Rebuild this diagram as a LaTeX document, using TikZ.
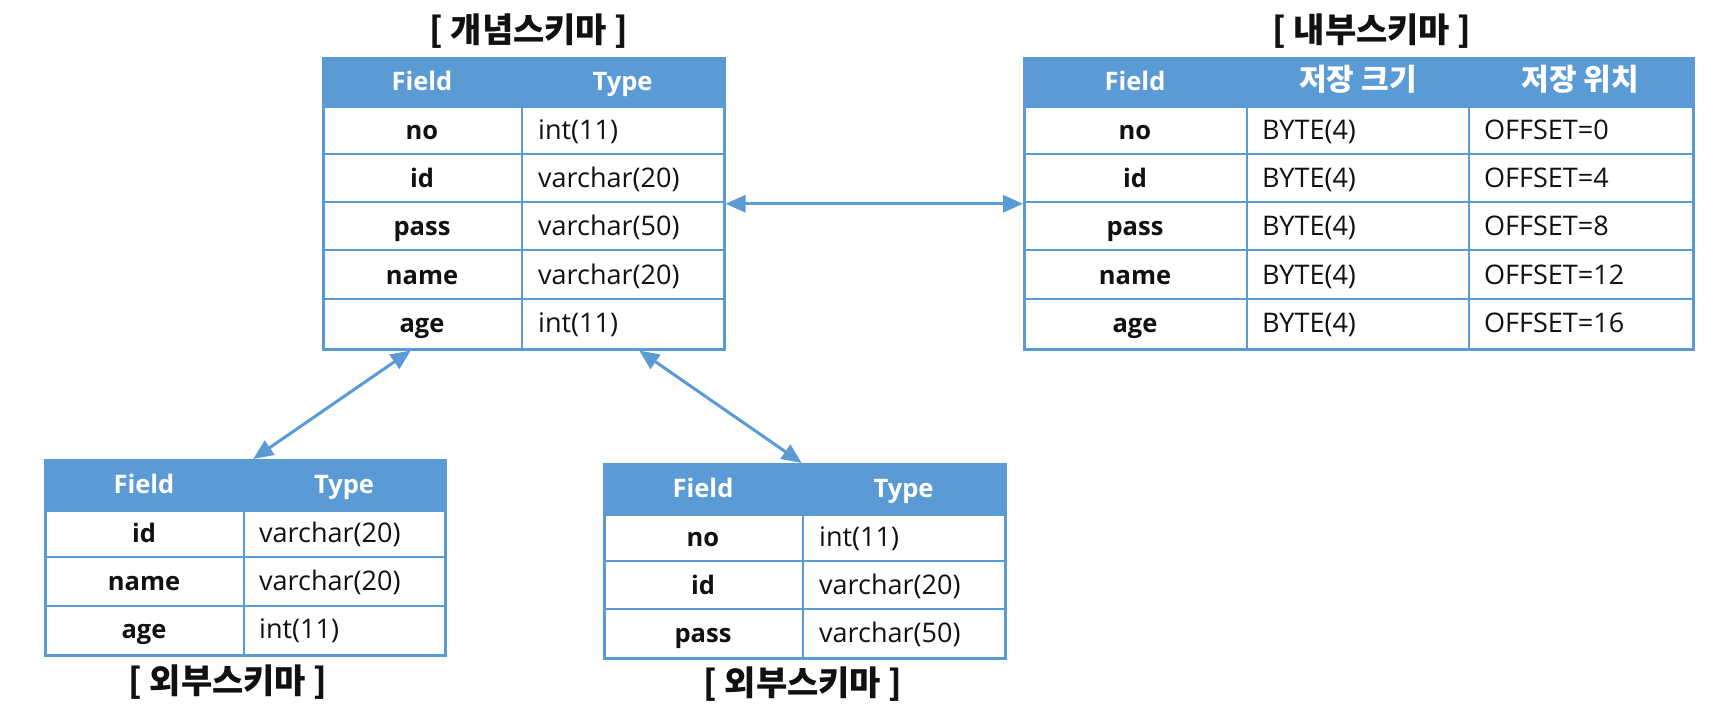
\documentclass[tikz,border=0pt]{standalone}
\usepackage{fontspec}
\setmainfont{Open Sans}
\newfontfamily\kr{Noto Sans CJK KR}
\usetikzlibrary{arrows.meta,calc}
\definecolor{tblue}{HTML}{5B9BD5}
\definecolor{ink}{HTML}{111111}
\begin{document}
\begin{tikzpicture}[x=1pt,y=-1pt,
  frame/.style={draw=tblue,line width=2.5pt,inner sep=0pt,anchor=north west},
  headbar/.style={fill=tblue,draw=tblue,line width=2.5pt,inner sep=0pt,anchor=north west},
  gridline/.style={draw=tblue,line width=2.5pt},
  htxt/.style={text=white,font=\fontsize{25.5}{30}\selectfont\bfseries,inner sep=0pt,anchor=base},
  hkr/.style={text=white,font=\kr\fontsize{30}{34}\selectfont\bfseries,inner sep=0pt,anchor=base},
  ftxt/.style={text=ink,font=\fontsize{25.5}{30}\selectfont\bfseries,inner sep=0pt,anchor=base},
  ttxt/.style={text=ink,font=\fontsize{27}{30}\selectfont,inner sep=0pt,anchor=base west},
  ttl/.style={text=ink,font=\kr\fontsize{34}{40}\selectfont\bfseries,inner sep=0pt},
  link/.style={draw=tblue,line width=3pt,{Triangle[length=20pt,width=17pt]}-{Triangle[length=20pt,width=17pt]}}
]
\useasboundingbox (0,0) rectangle (1733,722);
\fill[white] (0,0) rectangle (1733,722);

% ---------- conceptual schema ----------
\node[ttl] (concepttitle) at (529,31) {[ 개념스키마 ]};
\node[headbar,minimum width=401pt,minimum height=49pt] (concepthead) at (322,57) {};
\node[frame,minimum width=401pt,minimum height=291pt] (concept) at (322,57) {};
\foreach \y in {154,202,250,299} \draw[gridline] (322,\y) -- (723,\y);
\draw[gridline] (522,106) -- (522,348);
\node[htxt] (cfh) at (422,90.5) {Field};
\node[htxt] (cth) at (622.5,90.5) {Type};
\foreach \f/\t [count=\i] in {no/int(11),id/varchar(20),pass/varchar(50),name/varchar(20),age/int(11)}{
  \node[ftxt] (cf\i) at (422,{106+48.4*(\i-0.5)+9}) {\f};
  \node[ttxt] (ct\i) at (538,{106+48.4*(\i-0.5)+9}) {\t};
}

% ---------- internal schema ----------
\node[ttl] (internaltitle) at (1372,31) {[ 내부스키마 ]};
\node[headbar,minimum width=669pt,minimum height=49pt] (internalhead) at (1023,57) {};
\node[frame,minimum width=669pt,minimum height=291pt] (internal) at (1023,57) {};
\foreach \y in {154,202,250,299} \draw[gridline] (1023,\y) -- (1692,\y);
\draw[gridline] (1247,106) -- (1247,348);
\draw[gridline] (1469,106) -- (1469,348);
\node[htxt] (ifh) at (1135,90.5) {Field};
\node[hkr] (ish) at (1358,91) {저장 크기};
\node[hkr] (iph) at (1580.5,91) {저장 위치};
\foreach \f/\o [count=\i] in {no/0,id/4,pass/8,name/12,age/16}{
  \node[ftxt] (if\i) at (1135,{106+48.4*(\i-0.5)+9}) {\f};
  \node[ttxt] (is\i) at (1262,{106+48.4*(\i-0.5)+9}) {BYTE(4)};
  \node[ttxt] (ip\i) at (1484,{106+48.4*(\i-0.5)+9}) {OFFSET=\o};
}

% ---------- external schema A ----------
\node[headbar,minimum width=400pt,minimum height=50pt] (extAhead) at (44,459) {};
\node[frame,minimum width=400pt,minimum height=195pt] (extA) at (44,459) {};
\foreach \y in {557,606} \draw[gridline] (44,\y) -- (444,\y);
\draw[gridline] (244,509) -- (244,654);
\node[htxt] (afh) at (144,493) {Field};
\node[htxt] (ath) at (344,493) {Type};
\foreach \f/\t [count=\i] in {id/varchar(20),name/varchar(20),age/int(11)}{
  \node[ftxt] (af\i) at (144,{509+48.33*(\i-0.5)+9}) {\f};
  \node[ttxt] (at\i) at (259,{509+48.33*(\i-0.5)+9}) {\t};
}
\node[ttl] (extAtitle) at (228,682) {[ 외부스키마 ]};

% ---------- external schema B ----------
\node[headbar,minimum width=401pt,minimum height=50pt] (extBhead) at (603,463) {};
\node[frame,minimum width=401pt,minimum height=194pt] (extB) at (603,463) {};
\foreach \y in {561,609} \draw[gridline] (603,\y) -- (1004,\y);
\draw[gridline] (803,513) -- (803,657);
\node[htxt] (bfh) at (703,497) {Field};
\node[htxt] (bth) at (903.5,497) {Type};
\foreach \f/\t [count=\i] in {no/int(11),id/varchar(20),pass/varchar(50)}{
  \node[ftxt] (bf\i) at (703,{513+48*(\i-0.5)+9}) {\f};
  \node[ttxt] (bt\i) at (819,{513+48*(\i-0.5)+9}) {\t};
}
\node[ttl] (extBtitle) at (803,684) {[ 외부스키마 ]};

% ---------- connectors ----------
\coordinate (c1) at ($(concept.south west)!0.22!(concept.south east)$);
\coordinate (c2) at ($(concept.south west)!0.786!(concept.south east)$);
\coordinate (e1) at ($(extA.north)+(8,0)$);
\coordinate (e2) at ($(extB.north)+(-3,0)$);
\draw[link] (concept.east) -- (internal.west);
\draw[link] (c1) -- (e1);
\draw[link] (c2) -- (e2);
\end{tikzpicture}
\end{document}
